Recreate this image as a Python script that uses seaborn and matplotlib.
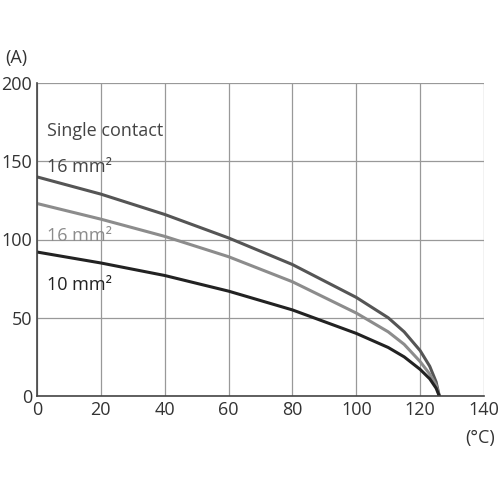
import matplotlib
matplotlib.use("Agg")
import matplotlib.pyplot as plt
import seaborn as sns
import pandas as pd
from matplotlib.ticker import MultipleLocator

temp = [0, 20, 40, 60, 80, 100, 110, 115, 120, 123, 125, 126]
single_16 = [140, 129, 116, 101, 84, 63, 50, 41, 29, 19, 9, 0]
multi_16 = [123, 113, 102, 89, 73, 53, 41, 33, 22, 14, 7, 0]
multi_10 = [92, 85, 77, 67, 55, 40, 31, 25, 17, 11, 5, 0]

series = {"single_16": (single_16, "#555555"),
          "multi_16": (multi_16, "#8c8c8c"),
          "multi_10": (multi_10, "#222222")}

sns.set_style("white")
plt.rcParams["font.family"] = ["Liberation Sans Narrow", "Open Sans", "DejaVu Sans"]

fig = plt.figure(figsize=(5, 5), dpi=100)
ax = fig.add_axes([0.074, 0.208, 0.894, 0.626])

for name, (vals, color) in series.items():
    df = pd.DataFrame({"t": temp, "a": vals})
    sns.lineplot(data=df, x="t", y="a", color=color, lw=2.2, ax=ax)

ax.set_xlim(0, 140)
ax.set_ylim(0, 200)
ax.xaxis.set_major_locator(MultipleLocator(20))
ax.yaxis.set_major_locator(MultipleLocator(50))
ax.xaxis.set_minor_locator(MultipleLocator(10))
ax.yaxis.set_minor_locator(MultipleLocator(25))
ax.grid(True, which="major", color="#999999", lw=0.9)
for s in ["top", "right"]:
    ax.spines[s].set_visible(False)
for s in ["left", "bottom"]:
    ax.spines[s].set_color("#444444")
    ax.spines[s].set_linewidth(1.2)
ax.tick_params(which="both", direction="in", color="#444444", labelsize=13, labelcolor="#333333")
ax.tick_params(which="major", length=6)
ax.tick_params(which="minor", length=4)
ax.set_xlabel("")
ax.set_ylabel("")

ax.text(3, 166, "Single contact", fontsize=13, color="#444444")
ax.text(3, 143, "16 mm²", fontsize=13, color="#444444")
ax.text(3, 99, "16 mm²", fontsize=13, color="#8c8c8c")
ax.text(3, 68, "10 mm²", fontsize=13, color="#222222")
fig.text(0.01, 0.875, "(A)", fontsize=13, color="#333333")
fig.text(0.93, 0.115, "(°C)", fontsize=13, color="#333333")

fig.savefig("out.png", dpi=100)
